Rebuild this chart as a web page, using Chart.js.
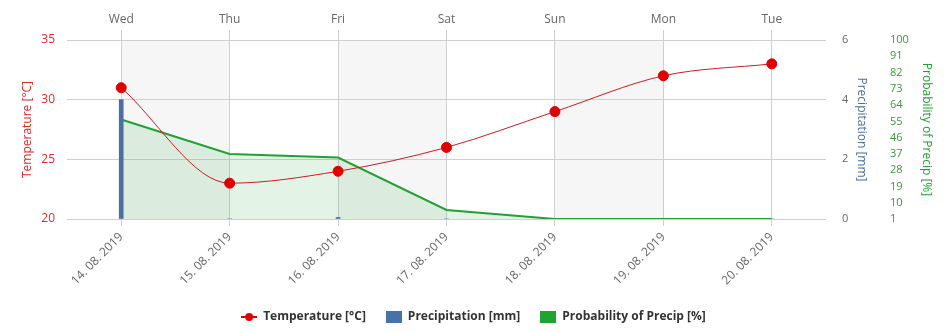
<!DOCTYPE html>
<html>
<head>
<meta charset="utf-8">
<script src="https://cdn.jsdelivr.net/npm/chart.js@4/dist/chart.umd.min.js"></script>
<style>
  html, body { margin: 0; padding: 0; background: #fff; }
  #wrap { width: 947px; height: 333px; }
</style>
</head>
<body>
<div id="wrap"><canvas id="c" width="947" height="333"></canvas></div>
<script>
// Forecast for one week
const dates = ['14. 08. 2019', '15. 08. 2019', '16. 08. 2019', '17. 08. 2019', '18. 08. 2019', '19. 08. 2019', '20. 08. 2019'];
const days = ['Wed', 'Thu', 'Fri', 'Sat', 'Sun', 'Mon', 'Tue'];
const temperature = [31, 23, 24, 26, 29, 32, 33];
const precipitation = [4, 0, 0.05, 0, 0, 0, 0];
const precipProbability = [56, 37, 35, 6, 1, 1, 1];
// shaded day pairs (index from, index to)
const shadedBands = [[0, 1], [2, 3], [4, 5]];

const FONT = '"Open Sans", "Liberation Sans", sans-serif';
const RED = '#d42a2a';
const BLUE = '#4a6fa0';
const GREEN = '#22a033';
const GRID = '#cfcfcf';

// legend symbols
function legendSymbol(kind, color) {
  const c = document.createElement('canvas');
  c.width = 16; c.height = 12;
  const g = c.getContext('2d');
  if (kind === 'line') {
    g.strokeStyle = color; g.lineWidth = 2;
    g.beginPath(); g.moveTo(0, 6); g.lineTo(16, 6); g.stroke();
    g.fillStyle = color;
    g.beginPath(); g.arc(8, 6, 4, 0, Math.PI * 2); g.fill();
  } else {
    g.fillStyle = color;
    g.fillRect(0, 0, 16, 12);
  }
  return c;
}
const symbols = [legendSymbol('line', '#e00000'), legendSymbol('rect', '#4572a7'), legendSymbol('rect', '#1ea52f')];

const bandPlugin = {
  id: 'dayBands',
  beforeDraw(chart) {
    const { ctx, chartArea, scales } = chart;
    const x = scales.x;
    ctx.save();
    ctx.fillStyle = '#f6f6f6';
    shadedBands.forEach(([a, b]) => {
      const x0 = x.getPixelForValue(a);
      const x1 = x.getPixelForValue(b);
      ctx.fillRect(x0, chartArea.top, x1 - x0, chartArea.bottom - chartArea.top);
    });
    ctx.restore();
  }
};

const fixed = (prop, v) => (scale) => { scale[prop] = v; };

new Chart(document.getElementById('c'), {
  data: {
    labels: dates,
    datasets: [
      {
        type: 'line',
        label: 'Temperature [°C]',
        data: temperature,
        yAxisID: 'y',
        borderColor: '#c81e1e',
        borderWidth: 1,
        pointBackgroundColor: '#e00000',
        pointBorderColor: '#e00000',
        pointRadius: 5,
        pointHoverRadius: 5,
        cubicInterpolationMode: 'monotone',
        fill: false,
        order: 0
      },
      {
        type: 'bar',
        label: 'Precipitation [mm]',
        data: precipitation,
        yAxisID: 'yPrecip',
        backgroundColor: BLUE,
        barThickness: 4,
        order: 1
      },
      {
        type: 'line',
        label: 'Probability of Precip [%]',
        data: precipProbability,
        yAxisID: 'yProb',
        borderColor: GREEN,
        borderWidth: 2,
        backgroundColor: 'rgba(40, 160, 60, 0.13)',
        pointRadius: 0,
        tension: 0,
        fill: 'start',
        order: 2
      }
    ]
  },
  options: {
    responsive: false,
    animation: false,
    layout: { padding: 0 },
    plugins: {
      tooltip: { enabled: false },
      legend: {
        position: 'bottom',
        labels: {
          usePointStyle: true,
          pointStyleWidth: 16,
          boxWidth: 16,
          boxHeight: 12,
          padding: 20,
          color: '#333',
          font: { family: FONT, size: 12, weight: 'bold' },
          generateLabels(chart) {
            const items = Chart.defaults.plugins.legend.labels.generateLabels(chart);
            items.forEach((it, i) => { it.pointStyle = symbols[i]; it.fontColor = '#333'; });
            return items;
          }
        }
      }
    },
    scales: {
      x: {
        type: 'category',
        position: 'bottom',
        offset: true,
        afterFit: fixed('height', 72),
        grid: { offset: false, color: GRID, tickLength: 7, drawOnChartArea: true },
        border: { display: false },
        ticks: {
          color: '#666', font: { family: FONT, size: 12 },
          maxRotation: 45, minRotation: 45, padding: 4, autoSkip: false
        }
      },
      xTop: {
        type: 'category',
        position: 'top',
        labels: days,
        offset: true,
        afterFit: fixed('height', 40),
        grid: { offset: false, color: GRID, tickLength: 10, drawOnChartArea: false },
        border: { display: false },
        ticks: { color: '#666', font: { family: FONT, size: 12 }, padding: 3, maxRotation: 0, autoSkip: false }
      },
      y: {
        position: 'left',
        min: 20, max: 35,
        afterFit: fixed('width', 67),
        grid: { color: GRID, drawTicks: false },
        border: { display: false },
        ticks: { stepSize: 5, color: RED, font: { family: FONT, size: 12 }, padding: 12, autoSkip: false },
        title: {
          display: true, text: 'Temperature [°C]', color: RED,
          font: { family: FONT, size: 12 }, padding: { top: 20, bottom: 0 }
        }
      },
      yPrecip: {
        position: 'right',
        min: 0, max: 6,
        afterFit: fixed('width', 54),
        grid: { drawOnChartArea: false, drawTicks: false },
        border: { display: false },
        ticks: { stepSize: 2, color: '#666', font: { family: FONT, size: 11 }, padding: 16, autoSkip: false },
        title: {
          display: true, text: 'Precipitation [mm]', color: BLUE,
          font: { family: FONT, size: 12 }, padding: { top: 11, bottom: 0 }
        }
      },
      yProb: {
        position: 'right',
        min: 1, max: 100,
        afterFit: fixed('width', 67),
        grid: { drawOnChartArea: false, drawTicks: false },
        border: { display: false },
        ticks: { stepSize: 9, color: '#3a963a', font: { family: FONT, size: 11 }, padding: 10, autoSkip: false },
        title: {
          display: true, text: 'Probability of Precip [%]', color: GREEN,
          font: { family: FONT, size: 12 }, padding: { top: 13, bottom: 0 }
        }
      }
    }
  },
  plugins: [bandPlugin]
});
</script>
</body>
</html>
